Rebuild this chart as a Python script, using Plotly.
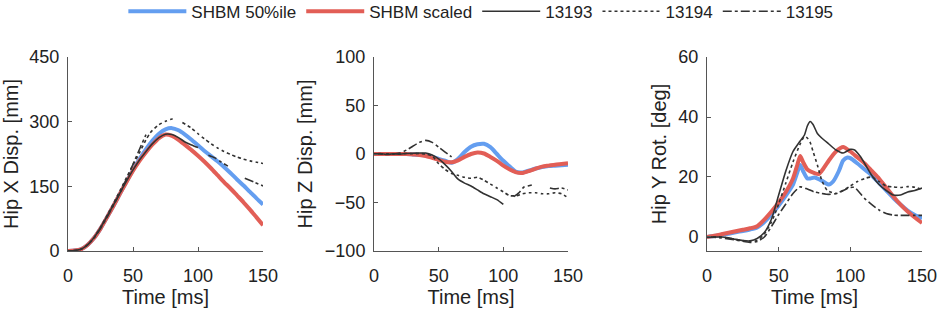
import plotly.graph_objects as go

# ---------------- data ----------------
t5 = list(range(0, 155, 5))

# Hip X displacement [mm]
x_blue = [0, 1, 4, 14, 30, 52, 78, 105, 133, 161, 188, 213, 236, 256, 272, 282, 285, 280, 270, 258,
          245, 232, 220, 208, 195, 181, 166, 152, 137, 122, 108]
x_red = [0, 1, 4, 14, 30, 52, 78, 105, 133, 160, 186, 209, 229, 247, 262, 270, 267, 258, 246, 234,
         221, 207, 192, 176, 160, 145, 129, 113, 96, 78, 60]
x_13193_t = [0, 5, 10, 15, 20, 25, 30, 35, 40, 45, 50, 55, 60, 65, 70, 75, 80, 85, 90, 95, 100]
x_13193 = [0, 1, 4, 14, 31, 54, 80, 107, 135, 162, 188, 211, 231, 249, 263, 271, 270, 263, 253, 246, 240]
x_13194_t = [0, 5, 10, 15, 20, 25, 30, 35, 40, 45, 50, 55, 60, 63, 65, 70, 75, 80, 82, 85,
             88, 95, 100, 105, 110, 115, 120, 125, 130, 135, 140, 145, 150]
x_13194 = [0, 1, 4, 14, 31, 55, 82, 110, 140, 170, 200, 228, 258, 273, 280, 293, 301, 306, 306, None,
           298, 285, 272, 260, 249, 239, 231, 224, 218, 213, 209, 206, 203]
x_13195_t = [0, 5, 10, 15, 20, 25, 30, 35, 40, 45, 50, 55, 60, 80, 108, 113, 118, 123, 130, 136, 143, 150]
x_13195 = [0, 1, 4, 14, 30, 52, 78, 106, 134, 167, 201, 236, 270, None, 222, 216, 206, 197, None, 169, 160, 151]

# Hip Z displacement [mm]
z_blue = [0, 0, 0, 0, 0, 0, -0.5, -1, -1.5, -3, -5, -7, -9, -5, 2, 7.5, 10, 10.5, 7, 0,
          -7, -13, -18.5, -19, -17, -15, -13.5, -12.5, -12, -11.5, -11]
z_red = [0, 0, 0, 0, 0, 0, -0.5, -1, -2, -4, -6, -8, -8.5, -6.5, -3, 0, 1.5, 0.5, -3, -7,
         -12, -16, -19, -19.5, -17.5, -15, -13, -12, -11, -10.3, -9.6]
z_13193_t = [0, 5, 10, 15, 20, 25, 30, 35, 40, 45, 50, 55, 60, 65, 70, 75, 80, 85, 90, 95, 100]
z_13193 = [0, 0.5, -0.5, 0.3, -0.3, 0.5, 0.8, 1, 1, -1, -5, -11, -18, -26, -30, -33, -37, -41, -44, -47, -52]
z_13194_t = t5
z_13194 = [0, 0, 0.3, -0.3, 0, 0.5, 0.3, 0.5, 0, -2, -10, -16, -20, -22, -24, -25, -24, -27, -31, -35,
           -39, -43, -43, -41, -40, -40, -41, -41, -40, -41, -45]
z_13195_t = [0, 5, 10, 15, 20, 25, 30, 35, 40, 45, 50, 55, 60, 80, 108, 112, 116, 119, 122, 130,
             136, 140, 145, 150]
z_13195 = [0, 0, 0, 0, 1, 4, 8, 12, 14, 12, 7, 2, -3, None, -44, -40, -34, -33, -32, None,
           -35, -36, -35, -37]

# Hip Y rotation [deg]
y_blue_t = [0, 5, 10, 15, 20, 25, 30, 35, 40, 45, 50, 55, 60, 63, 65, 67, 70, 72, 75, 80,
            85, 88, 92, 95, 98, 100, 105, 110, 115, 120, 125, 130, 135, 140, 145, 150]
y_blue = [0, 0.3, 0.7, 1.1, 1.6, 2, 2.5, 3.2, 5, 7.5, 10.5, 13.8, 17.5, 21.5, 24, 22, 19.5, 19.5, 19.8, 18.8,
          17.5, 18.5, 22, 25.5, 26.5, 26.3, 24.5, 22.5, 20.5, 18, 15.5, 13, 10.8, 8.8, 7.3, 6.2]
y_red_t = [0, 5, 10, 15, 20, 25, 30, 35, 40, 45, 50, 55, 60, 63, 65, 67, 70, 75, 78, 80,
           85, 90, 95, 100, 105, 110, 115, 120, 125, 130, 135, 140, 145, 150]
y_red = [0, 0.4, 0.9, 1.4, 1.9, 2.4, 2.9, 3.6, 5.8, 8.5, 11.5, 15, 19.5, 24, 27, 25, 22.5, 21.3, 21, 22,
         25.5, 28.5, 30, 28.5, 26.5, 24.5, 22, 19.5, 16.5, 13.5, 10.8, 8.5, 6.5, 4.7]
y_13193_t = [0, 5, 10, 15, 20, 25, 30, 35, 40, 45, 50, 55, 60, 65, 68, 70, 72, 74, 77, 80,
             85, 90, 95, 100, 103, 107, 110, 115, 120, 125, 130, 135, 140, 145, 150]
y_13193 = [0, 0, 0, -0.3, -0.8, -1.2, -1.3, -0.5, 1.5, 6, 14, 22, 28.5, 32, 34, 37, 38.5, 37.5, 34.5, 33,
           31, 29, 28, 29.2, 29, 26.8, 24.5, 20.5, 17.5, 15.5, 14, 14, 15, 15.5, 16.3]
y_13194_t = [0, 10, 20, 30, 35, 40, 45, 50, 55, 60, 65, 68, 70, 72, 74, 77, 80, 84, 90, 95,
             100, 105, 110, 115, 120, 125, 130, 135, 140, 145, 150]
y_13194 = [0, 0, -0.8, -1.5, -1.2, 1, 5, 11, 18, 25, 31, 33.5, 33, 31.5, 28.5, 24, 19, 15.5, 14.5, 15.5,
           17, 18.5, 19.5, 20, 18.5, 17, 16.7, 16.5, 16.8, 16.6, 15.8]
y_13195_t = [0, 10, 20, 30, 35, 40, 45, 50, 55, 60, 65, 70, 75, 80, 85, 90, 95, 100, 103, 107,
             110, 115, 120, 125, 130, 135, 140, 145, 150]
y_13195 = [0, -0.3, -1, -1.8, -1.5, 0, 3.5, 7.5, 11, 14.5, 16.7, 16, 15, 14.5, 14.2, 14.5, 15.5, 16.5, 16.5, 14.5,
           12.8, 10.8, 9, 7.8, 7.3, 7.2, 7.2, 7.2, 7.2]

names = ["SHBM 50%ile", "SHBM scaled", "13193", "13194", "13195"]
x_ticks = [0, 50, 100, 150]
y_ticks = [[0, 150, 300, 450], [-100, -50, 0, 50, 100], [0, 20, 40, 60]]
y_titles = ["Hip X Disp. [mm]", "Hip Z Disp. [mm]", "Hip Y Rot. [deg]"]
y_ranges = [[0, 450], [-100, 100], [-4.67, 60]]

# ---------------- styles ----------------
BLUE = "rgb(100,158,240)"
RED = "rgb(226,94,86)"
BLACK = "rgb(50,50,50)"
styles = [
    dict(color=BLUE, width=4, dash="solid"),
    dict(color=RED, width=4, dash="solid"),
    dict(color=BLACK, width=1.6, dash="solid"),
    dict(color=BLACK, width=1.6, dash="dot"),
    dict(color=BLACK, width=1.6, dash="dashdot"),
]

panels = [
    [(t5, x_blue), (t5, x_red), (x_13193_t, x_13193), (x_13194_t, x_13194), (x_13195_t, x_13195)],
    [(t5, z_blue), (t5, z_red), (z_13193_t, z_13193), (z_13194_t, z_13194), (z_13195_t, z_13195)],
    [(y_blue_t, y_blue), (y_red_t, y_red), (y_13193_t, y_13193), (y_13194_t, y_13194), (y_13195_t, y_13195)],
]

W, H = 941, 316
x_domains = [[68 / W, 263 / W], [374 / W, 568 / W], [707 / W, 922 / W]]
y_domain = [(H - 251) / H, (H - 57) / H]

fig = go.Figure()
for p, series in enumerate(panels):
    xa = "x" if p == 0 else f"x{p + 1}"
    ya = "y" if p == 0 else f"y{p + 1}"
    for s, (tt, vv) in enumerate(series):
        fig.add_trace(go.Scatter(
            x=tt, y=vv, mode="lines", name=names[s],
            line=dict(shape="spline", smoothing=0.6, **styles[s]),
            showlegend=(p == 0), legendgroup=names[s],
            xaxis=xa, yaxis=ya, connectgaps=False,
        ))

FONT = "Liberation Sans, Arial, sans-serif"
axis_common = dict(
    showline=True, linecolor="#555", linewidth=1, mirror=False, automargin=False,
    ticks="inside", ticklen=4, tickcolor="#555", showgrid=False, zeroline=False,
    tickfont=dict(family=FONT, size=18, color="#222"),
)
layout = dict(
    width=W, height=H, margin=dict(l=0, r=0, t=0, b=0, autoexpand=False),
    paper_bgcolor="white", plot_bgcolor="white",
    font=dict(family=FONT, color="#222"),
    legend=dict(orientation="h", x=0.511, xanchor="center",
                y=1.02, yanchor="top",
                font=dict(family=FONT, size=17, color="#222"),
                bgcolor="rgba(0,0,0,0)", itemwidth=58, tracegroupgap=0),
)
for p in range(3):
    sx = "" if p == 0 else str(p + 1)
    layout[f"xaxis{sx}"] = dict(
        domain=x_domains[p], range=[0, 150], tickvals=x_ticks, anchor=f"y{sx}",
        title=dict(text="Time [ms]", font=dict(family=FONT, size=20, color="#222"), standoff=2),
        ticklabelstandoff=8, **axis_common)
    layout[f"yaxis{sx}"] = dict(
        domain=y_domain, range=y_ranges[p], tickvals=y_ticks[p], anchor=f"x{sx}",
        title=dict(text=y_titles[p], font=dict(family=FONT, size=20, color="#222"), standoff=6),
        ticklabelstandoff=4, **axis_common)
fig.update_layout(**layout)

fig.write_html("out.html", config={"displayModeBar": False},
               post_script="document.body.style.margin='0';document.body.style.overflow='hidden';")
